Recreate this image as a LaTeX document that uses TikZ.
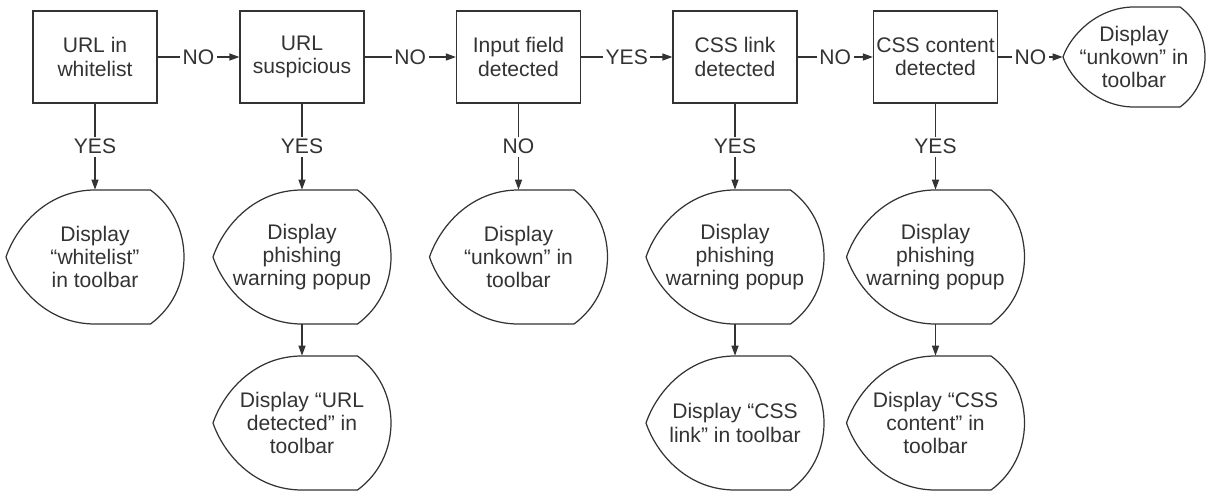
\documentclass[tikz,border=0pt]{standalone}
\usepackage{fontspec}
\setmainfont{Liberation Sans}
\usetikzlibrary{positioning}
\usetikzlibrary{arrows.meta}
\definecolor{ink}{HTML}{333333}
\tikzset{
	every node/.style = {font=\fontsize{12}{13.2}\selectfont, text=ink, align=center},
	testbox/.style = {draw=ink, line width=0.7pt, minimum width=2.48cm, minimum height=1.84cm, inner sep=0pt},
	dispbox/.style = {minimum width=3.56cm, minimum height=2.68cm, inner sep=0pt},
	disptop/.style = {minimum width=2.84cm, minimum height=2cm, inner sep=0pt},
	shapeline/.style = {draw=ink, line width=0.7pt},
	flow/.style = {draw=ink, line width=0.7pt, -{Triangle[length=2mm,width=1.4mm]}},
	answer/.style = {fill=white, inner sep=1.5pt}
}
% display symbol round a node: #1 node, #2 half width, #3 half height (px)
\newcommand{\dispoutline}[3]{%
	\draw[shapeline, shift={(#1.center)}]
		(-#2,0) .. controls +({0.15*#3},{-0.44*#3}) and +({-0.73*#3},0) .. (0,-#3)
		-- ({#2-0.5*#3},-#3) .. controls +({0.32*#3},{0.235*#3}) and +(0,{-0.4*#3}) .. (#2,0)
		.. controls +(0,{0.4*#3}) and +({0.32*#3},{-0.235*#3}) .. ({#2-0.5*#3},#3)
		-- (0,#3) .. controls +({-0.73*#3},0) and +({0.15*#3},{0.44*#3}) .. (-#2,0);}

\begin{document}
\begin{tikzpicture}[x=0.02cm, y=-0.02cm]
		\useasboundingbox (0,0) rectangle (1207,494);
		% tests
		\node[testbox] (b1) at (95,57) {URL in\\whitelist};
		\node[testbox] (b2) at (302,57) {URL\\suspicious};
		\node[testbox] (b3) at (518.5,57) {Input field\\detected};
		\node[testbox] (b4) at (735,57) {CSS link\\detected};
		\node[testbox] (b5) at (935.5,57) {CSS content\\detected};
		
		% displays
		\node[disptop] (d0) at (1134,57) {Display\\“unkown” in\\toolbar};
		\node[dispbox] (d1) at (95,257) {Display\\“whitelist”\\in toolbar};
		\node[dispbox] (d2) at (302,257) {Display\\phishing\\warning popup};
		\node[dispbox] (d3) at (302,423) {Display “URL\\detected” in\\toolbar};
		\node[dispbox] (d4) at (518.5,257) {Display\\“unkown” in\\toolbar};
		\node[dispbox] (d5) at (735,257) {Display\\phishing\\warning popup};
		\node[dispbox] (d6) at (735,423) {Display “CSS\\link” in toolbar};
		\node[dispbox] (d7) at (935.5,257) {Display\\phishing\\warning popup};
		\node[dispbox] (d8) at (935.5,423) {Display “CSS\\content” in\\toolbar};
		\foreach \d in {d1,d2,d3,d4,d5,d6,d7,d8}
			\dispoutline{\d}{89}{67};
		\dispoutline{d0}{71}{50};
		
		% main line
		\draw[flow] (b1) -- node[answer] (n1) {NO} (b2);
		\draw[flow] (b2) -- node[answer] (n2) {NO} (b3);
		\draw[flow] (b3) -- node[answer] (n3) {YES} (b4);
		\draw[flow] (b4) -- node[answer] (n4) {NO} (b5);
		\draw[flow] (b5) -- node[answer] (n5) {NO} (d0);
		
		% branches
		\draw[flow] (b1.south) -- node[answer] (y1) {YES} (d1.north);
		\draw[flow] (b2.south) -- node[answer] (y2) {YES} (d2.north);
		\draw[flow] (b3.south) -- node[answer] (y3) {NO} (d4.north);
		\draw[flow] (b4.south) -- node[answer] (y4) {YES} (d5.north);
		\draw[flow] (b5.south) -- node[answer] (y5) {YES} (d7.north);
		\draw[flow] (d2.south) -- (d3.north);
		\draw[flow] (d5.south) -- (d6.north);
		\draw[flow] (d7.south) -- (d8.north);
	\end{tikzpicture}
\end{document}
